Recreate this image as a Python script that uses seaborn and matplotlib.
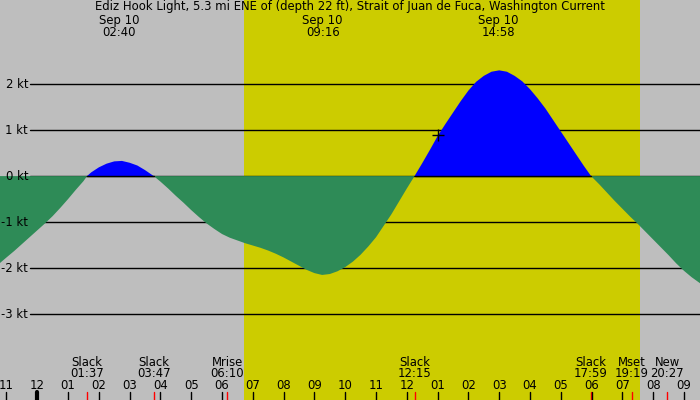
import numpy as np
import pandas as pd
import matplotlib
matplotlib.use("Agg")
import matplotlib.pyplot as plt
import matplotlib.transforms as mtransforms
import seaborn as sns

# ---------------- data ----------------
# hours from midnight Sep 10, current speed in knots (+ flood, - ebb)
hours = [-1.21, -1.0, -0.75, -0.5, -0.25, 0.0, 0.25, 0.5, 0.75, 1.0, 1.25, 1.5, 1.617,
         1.75, 2.0, 2.25, 2.5, 2.75, 3.0, 3.25, 3.5, 3.783,
         4.0, 4.25, 4.5, 4.75, 5.0, 5.25, 5.5, 5.75, 6.0, 6.25, 6.5, 6.75, 7.0, 7.25,
         7.5, 7.75, 8.0, 8.25, 8.5, 8.75, 9.0, 9.25, 9.5, 9.75, 10.0, 10.25, 10.5,
         10.75, 11.0, 11.25, 11.5, 11.75, 12.0, 12.25,
         12.5, 12.75, 13.0, 13.25, 13.5, 13.75, 14.0, 14.25, 14.5, 14.75, 15.0, 15.25,
         15.5, 15.75, 16.0, 16.25, 16.5, 16.75, 17.0, 17.25, 17.5, 17.75, 17.983,
         18.25, 18.5, 18.75, 19.0, 19.25, 19.5, 19.75, 20.0, 20.25, 20.5, 20.75,
         21.0, 21.25, 21.52]
speed = [-1.89, -1.77, -1.63, -1.48, -1.33, -1.18, -1.03, -0.87, -0.69, -0.50, -0.30, -0.11, 0.0,
         0.08, 0.19, 0.27, 0.32, 0.33, 0.29, 0.23, 0.13, 0.0,
         -0.12, -0.27, -0.43, -0.58, -0.74, -0.89, -1.03, -1.15, -1.26, -1.34, -1.40, -1.46, -1.51, -1.56,
         -1.62, -1.69, -1.77, -1.86, -1.95, -2.04, -2.11, -2.15, -2.13, -2.07, -1.98, -1.86, -1.71,
         -1.53, -1.33, -1.08, -0.83, -0.55, -0.27, 0.0,
         0.28, 0.57, 0.87, 1.13, 1.38, 1.63, 1.86, 2.05, 2.18, 2.27, 2.30, 2.27,
         2.18, 2.06, 1.89, 1.69, 1.47, 1.22, 0.97, 0.72, 0.47, 0.22, 0.0,
         -0.18, -0.36, -0.54, -0.71, -0.88, -1.04, -1.21, -1.38, -1.55, -1.72, -1.90,
         -2.06, -2.20, -2.33]

title = "Ediz Hook Light, 5.3 mi ENE of (depth 22 ft), Strait of Juan de Fuca, Washington Current"

peak_hours = [2.667, 9.267, 14.967]
peak_dates = ["Sep 10", "Sep 10", "Sep 10"]
peak_times = ["02:40", "09:16", "14:58"]

event_hours = [1.617, 3.783, 6.167, 12.25, 17.983, 19.317, 20.45]
event_names = ["Slack", "Slack", "Mrise", "Slack", "Slack", "Mset", "New"]
event_times = ["01:37", "03:47", "06:10", "12:15", "17:59", "19:19", "20:27"]

tick_hours = list(range(-1, 22))
tick_labels = ["11", "12", "01", "02", "03", "04", "05", "06", "07", "08", "09", "10",
               "11", "12", "01", "02", "03", "04", "05", "06", "07", "08", "09"]

kt_levels = [2, 1, 0, -1, -2, -3]
kt_labels = ["2 kt", "1 kt", "0 kt", "-1 kt", "-2 kt", "-3 kt"]

sunrise, sunset = 6.70, 19.57
marker_hour, marker_speed = [13.0], [0.89]

# ---------------- plot ----------------
sns.set_theme(style="white")
plt.rcParams['font.family'] = ['DejaVu Sans']
plt.rcParams['text.color'] = 'black'

df = pd.DataFrame({"hour": hours, "speed": speed})
h = df["hour"].to_numpy()
v = df["speed"].to_numpy()

fig = plt.figure(figsize=(7, 4), dpi=100)
ax = fig.add_axes([0, 0, 1, 1])
ax.set_xlim(-1.21, 21.52)
ax.set_ylim(-4.87, 3.83)
ax.set_axis_off()
fig.patch.set_facecolor("#bebebe")
ax.axvspan(sunrise, sunset, color="#cccc00", zorder=0, lw=0)

FS = 8.4
TC = "black"
# grid lines and labels
for lv, lb in zip(kt_levels, kt_labels):
    ax.axhline(lv, xmin=30 / 700, xmax=1, color="black", lw=1, zorder=1)
    ax.text(0.04, lv, lb, transform=mtransforms.blended_transform_factory(ax.transAxes, ax.transData),
            ha="right", va="center", fontsize=FS, color=TC, zorder=5)

ax.fill_between(h, v, 0, where=v <= 0, interpolate=True, color="#2e8b57", lw=0, zorder=2)
ax.fill_between(h, v, 0, where=v >= 0, interpolate=True, color="#0000ff", lw=0, zorder=2)
pos = np.where(v >= 0, 0.0, np.nan)
ax.plot(h, pos, color="black", lw=1, zorder=3)
ax.plot(marker_hour, marker_speed, marker="+", ms=9, mew=1, color="black", ls="none", zorder=4)

tb = mtransforms.blended_transform_factory(ax.transData, ax.transAxes)
ax.text(0.5, 0.9845, title, transform=ax.transAxes, ha="center", va="center", fontsize=FS, color=TC)
for ph, pd_, pt in zip(peak_hours, peak_dates, peak_times):
    ax.text(ph, 0.949, pd_, transform=tb, ha="center", va="center", fontsize=FS, color=TC)
    ax.text(ph, 0.920, pt, transform=tb, ha="center", va="center", fontsize=FS, color=TC)

for eh, en, et in zip(event_hours, event_names, event_times):
    ax.text(eh, 0.095, en, transform=tb, ha="center", va="center", fontsize=FS, color=TC)
    ax.text(eh, 0.066, et, transform=tb, ha="center", va="center", fontsize=FS, color=TC)
    ax.plot([eh, eh], [0, 0.02], transform=tb, color="red", lw=1, zorder=5)

for th, tl in zip(tick_hours, tick_labels):
    ax.text(th, 0.037, tl, transform=tb, ha="center", va="center", fontsize=FS, color=TC)
    ax.plot([th, th], [0, 0.021], transform=tb, color="black",
            lw=3 if th == 0 else 1, zorder=5)

fig.savefig("out.png", dpi=100, facecolor=fig.get_facecolor())
